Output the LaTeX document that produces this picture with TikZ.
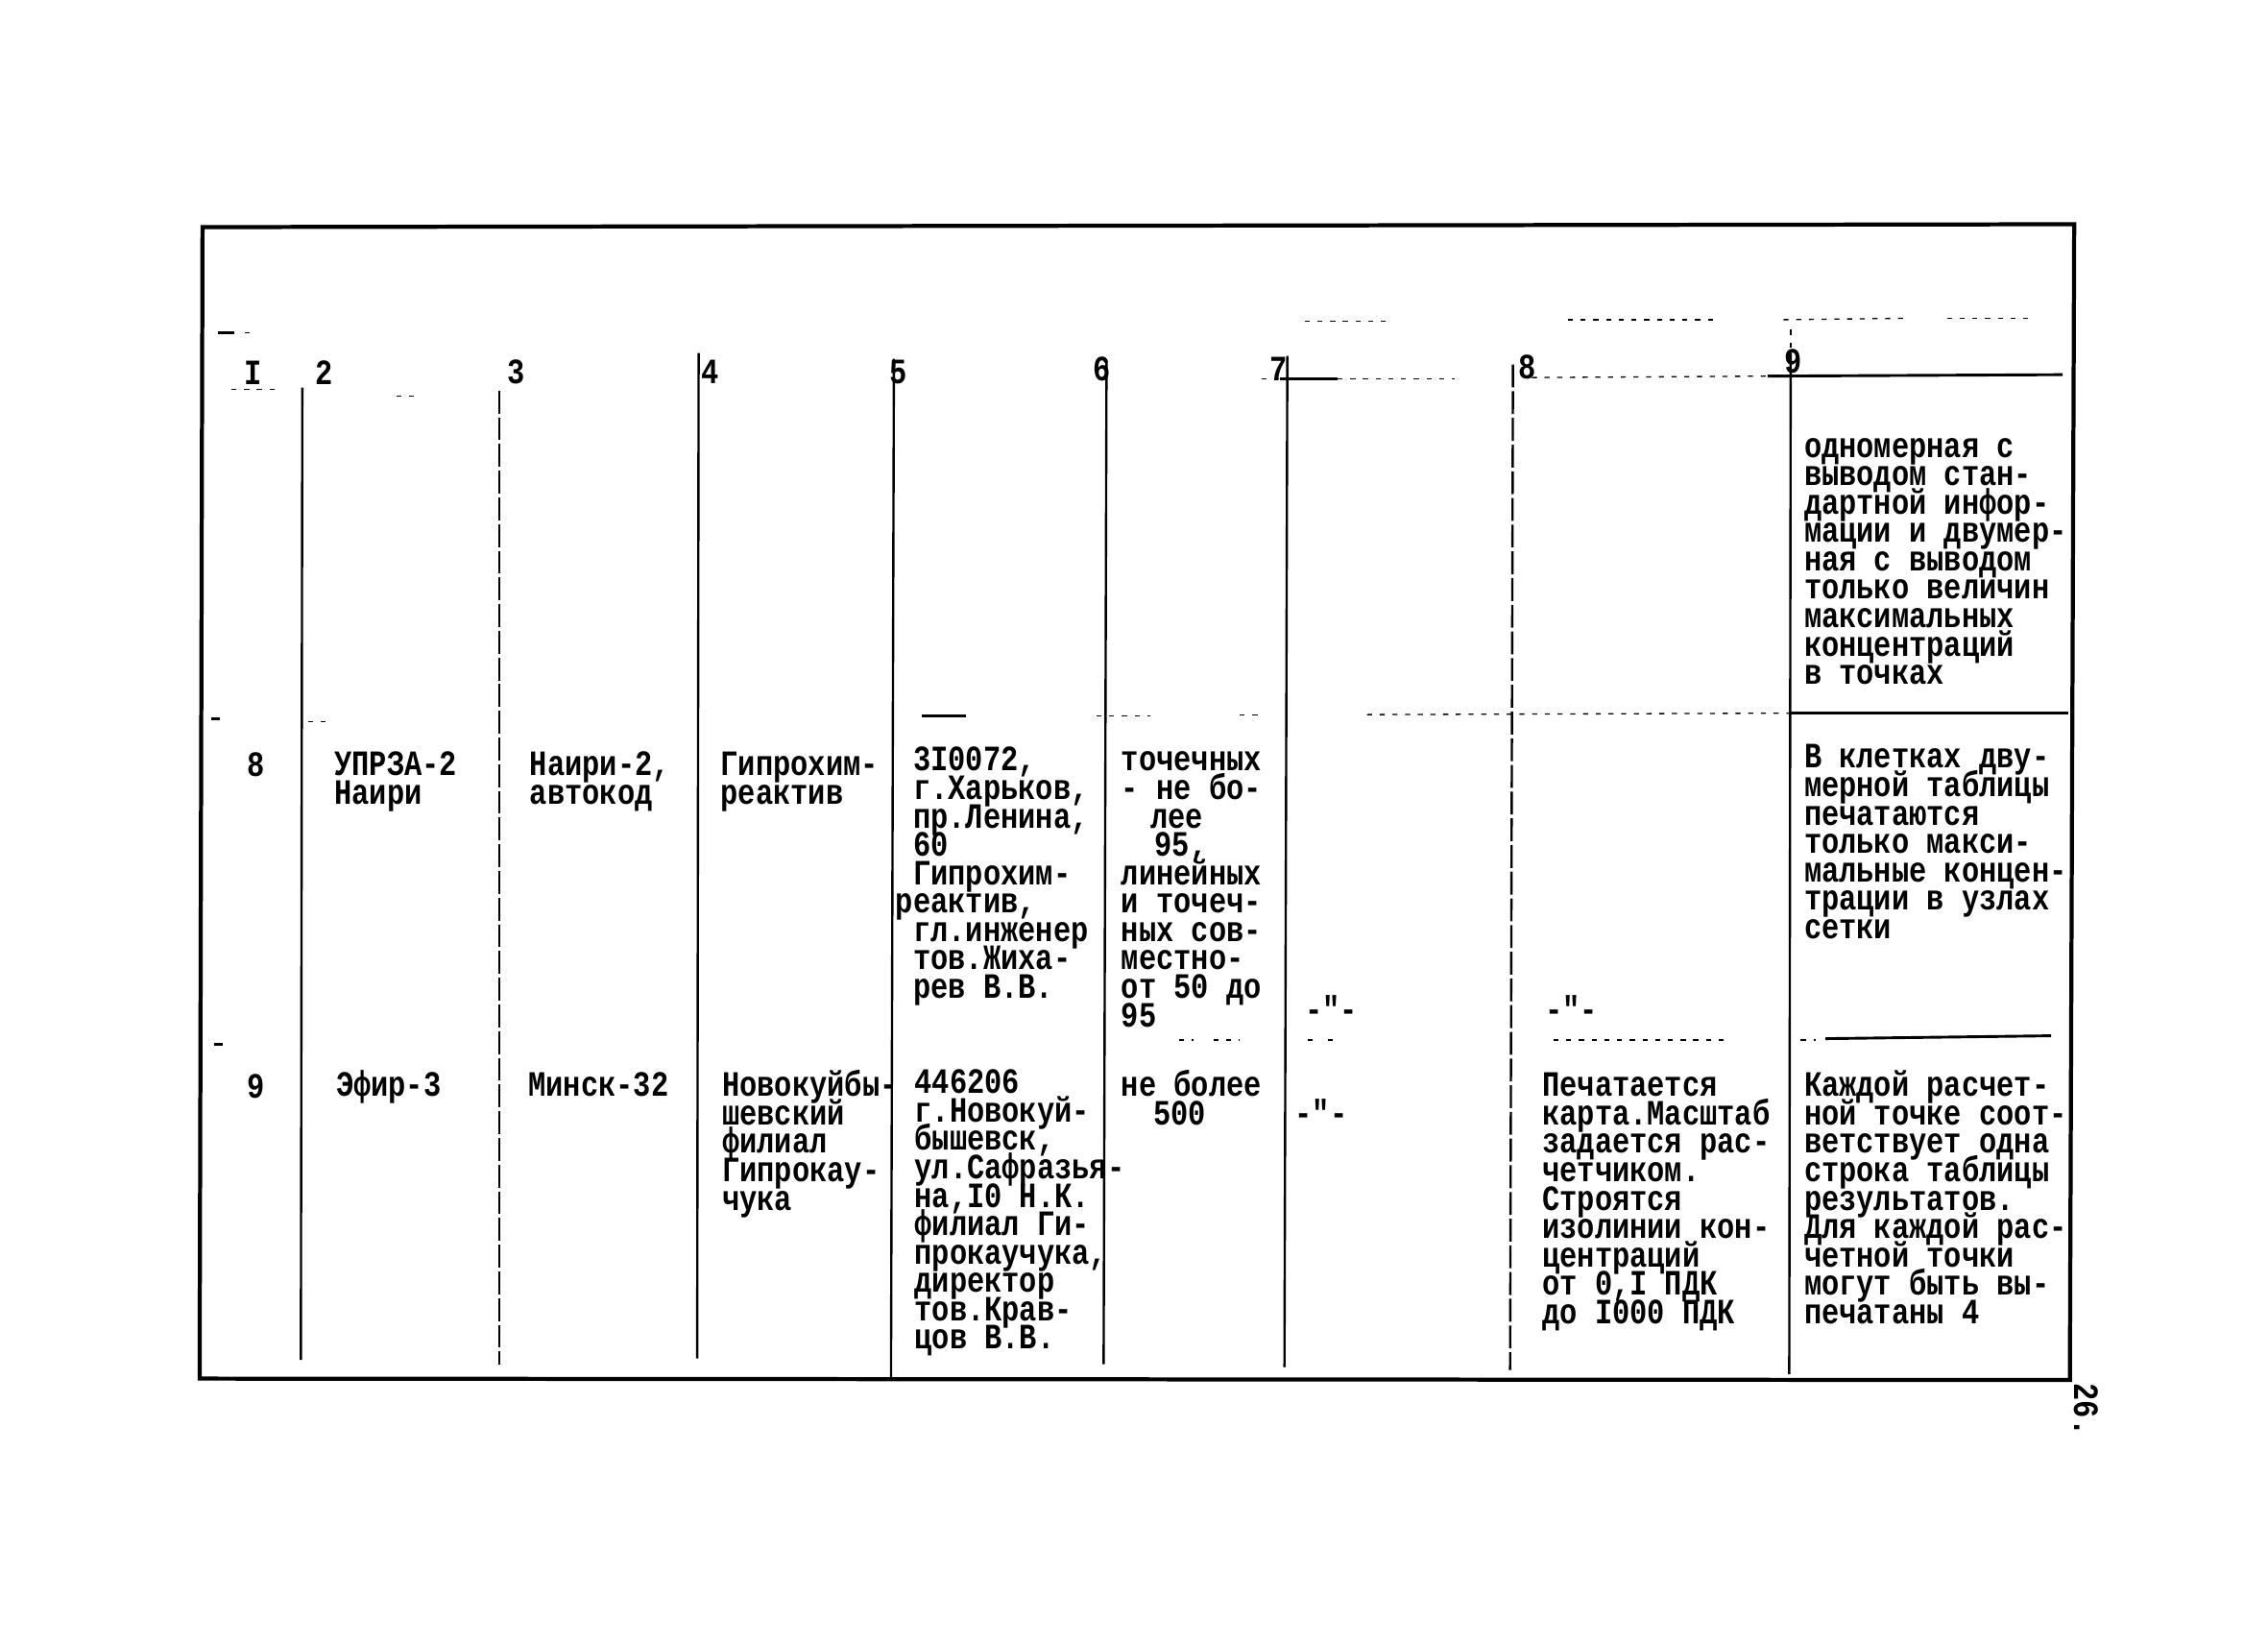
\documentclass[tikz,border=0pt]{standalone}
\usepackage{fontspec}
\newfontfamily\typer[FakeStretch=0.82]{Liberation Mono}
\usetikzlibrary{positioning}
\lineskiplimit=-50pt
\newcommand\cellfont{\typer\bfseries\fontsize{14}{11.17}\selectfont}
% lines of a cell, baseline on the first line
\newcommand\cellbox[1]{\vtop{\let\\\cr\halign{##\hfil\cr#1\crcr}}}
\tikzset{
frame/.style={line width=1.6pt}, % heavy border of the sheet
rule/.style={line width=0.9pt}, % column separators
broken/.style={line width=0.9pt, dash pattern=on 9pt off 1.5pt}, % typed-over separators
faint/.style={line width=0.5pt, dash pattern=on 2pt off 3pt}, % half-printed rules
solidrule/.style={line width=1.1pt},
cell/.style={anchor=base west, inner sep=0pt, font=\cellfont},
num/.style={anchor=base, inner sep=0pt, font=\cellfont}
}
\begin{document}
\begin{tikzpicture}[scale=0.2]
    \useasboundingbox (0,0) rectangle (156.8,-113.7);
    \draw [frame] (14.0,-15.7) -- (143.4,-15.5) -- (143.1,-95.4) -- (13.8,-95.3) -- cycle;
    \draw [rule] (20.9,-26.8) -- (20.8,-94.0);
    \draw [broken] (34.5,-27.0) -- (34.5,-94.3);
    \draw [rule] (48.3,-24.4) -- (48.2,-93.9);
    \draw [rule] (61.8,-24.8) -- (61.6,-95.3);
    \draw [rule] (76.5,-25.0) -- (76.3,-94.3);
    \draw [rule] (89.0,-24.6) -- (88.8,-94.5);
    \draw [broken] (104.6,-25.2) -- (104.4,-94.7);
    \draw [rule] (123.8,-24.4) -- (123.7,-95.0);
    \draw [faint] (123.8,-22.8) -- (123.8,-24.4);
    \draw [faint] (90.2,-22.2) -- (96.0,-22.2);
    \draw [faint] (108.4,-22.1) -- (118.6,-22.1);
    \draw [faint] (123.3,-22.1) -- (131.9,-22.0);
    \draw [faint] (134.6,-22.0) -- (140.4,-22.0);
    \draw [solidrule] (15.1,-23.0) -- (16.2,-23.0);
    \draw [faint] (16.9,-23.0) -- (17.3,-23.0);
    \draw [faint] (87.2,-26.2) -- (100.6,-26.2);
    \draw [solidrule] (88.5,-26.2) -- (92.5,-26.2);
    \draw [faint] (105.9,-26.1) -- (122.2,-26.0);
    \draw [solidrule] (122.2,-26.0) -- (142.6,-25.9);
    \draw [faint] (16.0,-26.9) -- (19.0,-26.9);
    \draw [faint] (27.4,-27.4) -- (29.1,-27.4);
    \draw [solidrule] (123.8,-49.3) -- (143.0,-49.3);
    \draw [faint] (94.5,-49.4) -- (123.8,-49.3);
    \draw [solidrule] (14.6,-49.7) -- (15.2,-49.7);
    \draw [faint] (21.3,-49.9) -- (22.8,-49.9);
    \draw [solidrule] (63.7,-49.5) -- (66.8,-49.5);
    \draw [faint] (75.8,-49.5) -- (79.5,-49.5);
    \draw [faint] (85.7,-49.4) -- (87.0,-49.4);
    \draw [solidrule] (14.8,-72.2) -- (15.4,-72.2);
    \draw [faint] (81.5,-71.9) -- (82.5,-71.9);
    \draw [faint] (83.9,-71.9) -- (85.7,-71.9);
    \draw [faint] (90.4,-71.9) -- (90.9,-71.9);
    \draw [faint] (91.8,-71.9) -- (92.4,-71.9);
    \draw [faint] (107.4,-71.9) -- (119.6,-71.9);
    \draw [faint] (124.5,-71.9) -- (125.5,-71.9);
    \draw [solidrule] (126.2,-71.8) -- (141.8,-71.6);
    \node (h1) [num] at (17.5,-26.6) {I};
    \node (h2) [num] at (22.4,-26.6) {2};
    \node (h3) [num] at (35.7,-26.5) {3};
    \node (h4) [num] at (49.1,-26.5) {4};
    \node (h5) [num] at (62.1,-26.5) {5};
    \node (h6) [num] at (76.2,-26.3) {6};
    \node (h7) [num] at (88.4,-26.3) {7};
    \node (h8) [num] at (105.6,-26.2) {8};
    \node (h9) [num] at (124.0,-25.8) {9};
    \node (top9) [cell] at (124.7,-31.6) {\cellbox{одномерная с\\выводом стан-\\дартной инфор-\\мации и двумер-\\ная с выводом\\только величин\\максимальных\\концентраций\\в точках}};
    \node (r8c1) [num] at (17.7,-53.7) {8};
    \node (r8c2) [cell] at (23.1,-53.6) {\cellbox{УПРЗА-2\\Наири}};
    \node (r8c3) [cell] at (36.6,-53.6) {\cellbox{Наири-2,\\автокод}};
    \node (r8c4) [cell] at (49.8,-53.6) {\cellbox{Гипрохим-\\реактив}};
    \node (r8c5) [cell] at (61.9,-53.3) {\cellbox{\phantom{0}3I0072,\\\phantom{0}г.Харьков,\\\phantom{0}пр.Ленина,\\\phantom{0}60\\\phantom{0}Гипрохим-\\реактив,\\\phantom{0}гл.инженер\\\phantom{0}тов.Жиха-\\\phantom{0}рев В.В.}};
    \node (r8c6) [cell] at (77.5,-53.3) {\cellbox{точечных\\- не бо-\\\hspace*{0.4cm}лее\\\hspace*{0.46cm}95,\\линейных\\и точеч-\\ных сов-\\местно-\\от 50 до\\95}};
    \node (r8c7) [cell] at (90.2,-70.6) {-"-};
    \node (r8c8) [cell] at (106.8,-70.6) {-"-};
    \node (r8c9) [cell] at (124.7,-53.1) {\cellbox{В клетках дву-\\мерной таблицы\\печатаются\\только макси-\\мальные концен-\\трации в узлах\\сетки}};
    \node (r9c1) [num] at (17.7,-75.9) {9};
    \node (r9c2) [cell] at (23.2,-75.8) {Эфир-3};
    \node (r9c3) [cell] at (36.5,-75.8) {Минск-32};
    \node (r9c4) [cell] at (49.9,-75.8) {\cellbox{Новокуйбы-\\шевский\\филиал\\Гипрокау-\\чука}};
    \node (r9c5) [cell] at (63.2,-75.6) {\cellbox{446206\\г.Новокуй-\\бышевск,\\ул.Сафразья-\\на,I0 Н.К.\\филиал Ги-\\прокаучука,\\директор\\тов.Крав-\\цов В.В.}};
    \node (r9c6) [cell] at (77.5,-75.8) {\cellbox{не более\\\hspace*{0.44cm}500}};
    \node (r9c7) [cell] at (89.5,-77.8) {-"-};
    \node (r9c8) [cell] at (106.6,-75.8) {\cellbox{Печатается\\карта.Масштаб\\задается рас-\\четчиком.\\Строятся\\изолинии кон-\\центраций\\от 0,I ПДК\\до I000 ПДК}};
    \node (r9c9) [cell] at (124.7,-75.8) {\cellbox{Каждой расчет-\\ной точке соот-\\ветствует одна\\строка таблицы\\результатов.\\Для каждой рас-\\четной точки\\могут быть вы-\\печатаны 4}};
    \node (pg) [num, anchor=base west, rotate=-90] at (143.4,-95.6) {26.};
\end{tikzpicture}
\end{document}
